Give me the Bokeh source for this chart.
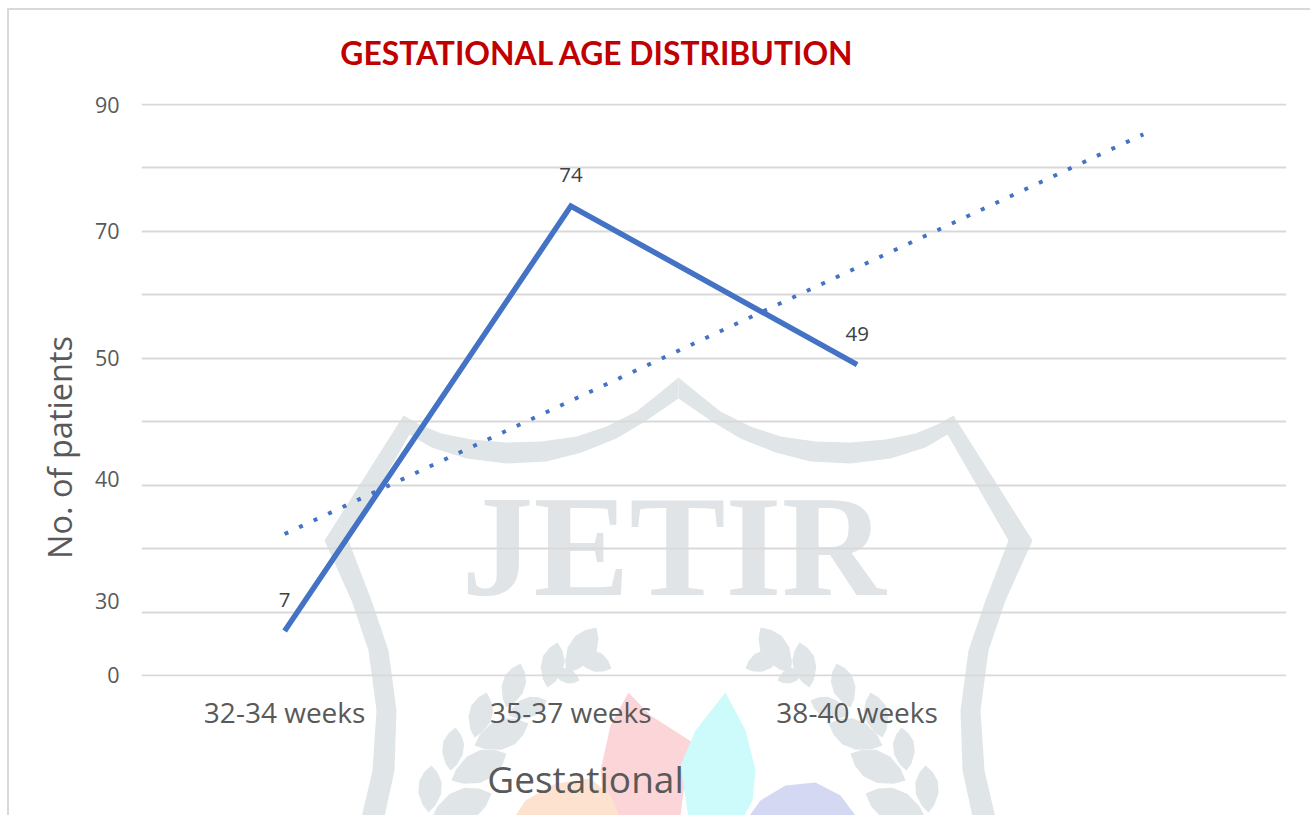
from bokeh.plotting import figure
from bokeh.embed import file_html
from bokeh.resources import INLINE
from bokeh.models import FixedTicker, Range1d, FactorRange
from bokeh.core.properties import value

categories = ["32-34 weeks", "35-37 weeks", "38-40 weeks", " "]
patients = [7, 74, 49]
trend = [22.3, 43.3, 64.3, 85.3]
grid_ticks = [0, 10, 20, 30, 40, 50, 60, 70, 80, 90]
# The reference's y labels do not sit on their gridlines: "40" and "30" float above them.
tick_positions = [90, 70, 50, 31, 11.7, 0]
tick_labels = ["90", "70", "50", "40", "30", "0"]
title_text = "GESTATIONAL AGE DISTRIBUTION"
x_title = "Gestational"
y_title = "No. of patients"

FW, FH = 1310, 815

# ---- Back layer: pale watermark, frame edges and free-standing titles, in page pixels
back = figure(width=FW, height=FH, x_range=Range1d(0, FW), y_range=Range1d(FH, 0),
              output_backend="svg", toolbar_location=None, min_border=0,
              outline_line_color=None, background_fill_color="white")
back.axis.visible = False
back.grid.visible = False

WM = "#e0e5e7"
def poly(pts, color):
    back.patch([q[0] for q in pts], [q[1] for q in pts], fill_color=color, line_color=None)
def both(pts, color):
    poly(pts, color)
    poly([(1356 - x, y) for x, y in pts], color)

top_out = [(678, 377), (695, 391), (720, 411), (750, 426), (780, 436), (815, 441), (850, 442),
           (885, 439), (915, 433), (937, 424), (953, 415)]
side_out = [(1032, 540), (1005, 600), (988, 650), (980, 710), (984, 770), (998, 830)]
side_in = [(975, 830), (962, 770), (960, 710), (968, 650), (985, 600), (1008, 540), (947, 434)]
top_in = [(925, 447), (890, 458), (850, 463), (810, 461), (775, 452), (740, 438), (710, 420), (678, 398)]
both(top_out + side_out + side_in + top_in, WM)

def leaf(a, b, w=0.24):
    (x0, y0), (x1, y1) = a, b
    dx, dy = x1 - x0, y1 - y0
    return [(x0 + dx * t - dy * w * s, y0 + dy * t + dx * w * s)
            for t, s in [(0, 0), (.15, .6), (.35, 1), (.6, 1), (.85, .55), (1, 0),
                         (.85, -.55), (.6, -1), (.35, -1), (.15, -.6)]]
leaves = [((760, 627), (790, 672)), ((745, 668), (782, 652)), ((799, 642), (809, 687)),
          ((777, 680), (804, 670)), ((836, 663), (850, 707)), ((810, 700), (848, 715)),
          ((870, 692), (882, 737)), ((828, 723), (882, 745)), ((901, 727), (906, 770)),
          ((850, 753), (905, 780)), ((925, 765), (928, 812)), ((865, 793), (925, 818))]
for a, b in leaves:
    both(leaf(a, b), WM)

poly([(628, 692), (650, 715), (697, 745), (685, 775), (680, 815), (672, 830), (605, 830), (600, 770), (610, 725)], "#fcd5d9")
poly([(725, 692), (745, 730), (755, 770), (752, 800), (735, 830), (690, 830), (680, 765), (695, 730)], "#cdfafa")
poly([(738, 830), (760, 800), (785, 785), (815, 782), (840, 795), (855, 815), (860, 830)], "#d4d8f2")
poly([(505, 830), (525, 800), (555, 783), (590, 778), (610, 795), (625, 830)], "#fde3cf")

back.text([461], [546], text=["JETIR"], text_font=value("Liberation Serif"), text_font_style="bold",
          text_font_size="144px", text_color="#e0e4e6", text_baseline="alphabetic")

back.line([7, FW], [8.5, 8.5], line_color="#d9d9d9", line_width=2)
back.line([7.5, 7.5], [8, FH], line_color="#d9d9d9", line_width=2)

back.text([597], [52], text=[title_text], text_font=value("Lato"), text_font_style="bold",
          text_font_size="31.8px", text_color="#c00000", text_align="center", text_baseline="middle")
back.text([585], [778], text=[x_title], text_font=value("Open Sans"), text_font_size="37px",
          text_color="#595959", text_align="center", text_baseline="middle")
back.text([59], [447], text=[y_title], angle=90, angle_units="deg", text_font=value("Open Sans"),
          text_font_size="32.5px", text_color="#595959", text_align="center", text_baseline="middle")

# ---- Front layer: the chart itself, transparent, laid exactly over the back layer
p = figure(width=FW, height=FH, x_range=FactorRange(factors=categories, range_padding=0),
           y_range=Range1d(-0.16, 90.16), output_backend="svg", toolbar_location=None,
           min_border_left=141, min_border_right=24, min_border_top=103, min_border_bottom=139,
           margin=(-FH, 0, 0, 0), outline_line_color=None,
           background_fill_color=None, border_fill_color=None)
p.xaxis.axis_line_color = None
p.xaxis.major_tick_line_color = None
p.xaxis.minor_tick_line_color = None
p.xaxis.major_label_text_font = "Open Sans"
p.xaxis.major_label_text_font_size = "28px"
p.xaxis.major_label_text_color = "#595959"
p.xaxis.major_label_standoff = 10
p.xgrid.visible = False
p.ygrid.ticker = FixedTicker(ticks=grid_ticks)
p.ygrid.grid_line_color = "#d9d9d9"
p.ygrid.grid_line_width = 2

p.yaxis.ticker = FixedTicker(ticks=tick_positions)
p.yaxis.major_label_overrides = dict(zip(tick_positions, tick_labels))
p.yaxis.axis_line_color = None
p.yaxis.major_tick_line_color = None
p.yaxis.minor_tick_line_color = None
p.yaxis.major_label_text_font = "Open Sans"
p.yaxis.major_label_text_font_size = "21.5px"
p.yaxis.major_label_text_color = "#595959"
p.yaxis.major_label_standoff = 16

p.line(categories, trend, line_color="#4472c4", line_width=4, line_dash="4 12")
p.line(categories[:3], patients, line_color="#4472c4", line_width=5.5, line_join="miter")
p.text(categories[:3], patients, text=[str(v) for v in patients], y_offset=-31,
       text_font=value("Open Sans"), text_font_size="20.5px", text_color="#404040",
       text_align="center", text_baseline="middle")

open("out.html", "w").write(file_html([back, p], INLINE))
